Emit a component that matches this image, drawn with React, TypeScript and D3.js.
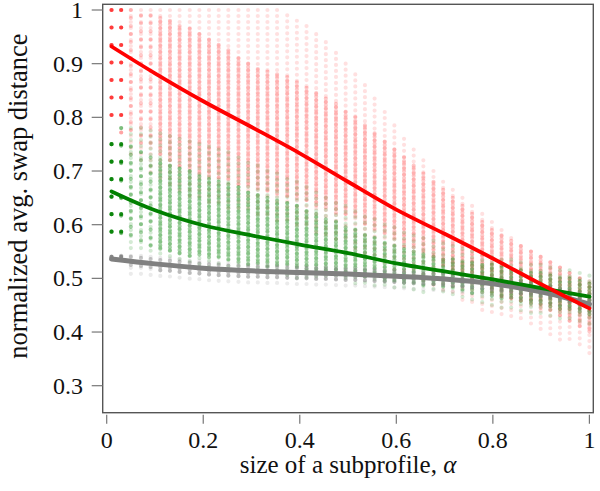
import React from 'react';
import * as d3 from 'd3';

// subprofile sizes (one column of dots per value)
const alphas = [
  0.010, 0.030, 0.050, 0.071, 0.091, 0.111, 0.131, 0.151, 0.172, 0.192,
  0.212, 0.232, 0.252, 0.273, 0.293, 0.313, 0.333, 0.353, 0.374, 0.394,
  0.414, 0.434, 0.454, 0.475, 0.495, 0.515, 0.535, 0.555, 0.576, 0.596,
  0.616, 0.636, 0.656, 0.677, 0.697, 0.717, 0.737, 0.757, 0.778, 0.798,
  0.818, 0.838, 0.858, 0.879, 0.899, 0.919, 0.939, 0.959, 0.980, 1.000,
];

// per column: outer min, dense low, dense high, outer max
const redMin = [0.78, 0.76, 0.73, 0.71, 0.69, 0.68, 0.67, 0.66, 0.65, 0.645, 0.64, 0.635, 0.63, 0.625, 0.62, 0.615, 0.61, 0.605, 0.6, 0.595, 0.59, 0.585, 0.58, 0.57, 0.565, 0.555, 0.545, 0.535, 0.525, 0.515, 0.505, 0.495, 0.49, 0.48, 0.47, 0.465, 0.455, 0.45, 0.44, 0.435, 0.43, 0.42, 0.415, 0.41, 0.4, 0.395, 0.385, 0.38, 0.37, 0.36];
const redLo = [0.8, 0.79, 0.77, 0.75, 0.74, 0.73, 0.72, 0.71, 0.7, 0.695, 0.69, 0.685, 0.68, 0.675, 0.67, 0.665, 0.66, 0.655, 0.65, 0.645, 0.64, 0.635, 0.63, 0.62, 0.615, 0.61, 0.6, 0.59, 0.58, 0.57, 0.56, 0.555, 0.545, 0.535, 0.525, 0.515, 0.505, 0.495, 0.485, 0.475, 0.465, 0.46, 0.455, 0.45, 0.44, 0.435, 0.43, 0.42, 0.41, 0.4];
const redHi = [1, 1, 1, 0.99, 0.99, 0.985, 0.98, 0.97, 0.965, 0.955, 0.945, 0.935, 0.925, 0.91, 0.9, 0.89, 0.885, 0.88, 0.875, 0.865, 0.855, 0.845, 0.835, 0.825, 0.81, 0.8, 0.785, 0.77, 0.755, 0.74, 0.725, 0.71, 0.695, 0.68, 0.665, 0.65, 0.635, 0.62, 0.605, 0.59, 0.58, 0.57, 0.56, 0.55, 0.54, 0.53, 0.52, 0.51, 0.5, 0.49];
const redMax = [1, 1, 1, 1, 1, 1, 1, 1, 1, 1, 1, 1, 1, 1, 1, 1, 1, 1, 0.99, 0.98, 0.97, 0.955, 0.94, 0.92, 0.9, 0.88, 0.86, 0.835, 0.81, 0.785, 0.76, 0.74, 0.72, 0.7, 0.68, 0.665, 0.65, 0.635, 0.62, 0.605, 0.59, 0.575, 0.56, 0.55, 0.54, 0.53, 0.52, 0.51, 0.5, 0.495];

const greenMin = [0.57, 0.565, 0.555, 0.55, 0.545, 0.54, 0.535, 0.53, 0.525, 0.525, 0.52, 0.52, 0.515, 0.515, 0.51, 0.51, 0.505, 0.505, 0.505, 0.5, 0.5, 0.495, 0.495, 0.495, 0.49, 0.49, 0.485, 0.485, 0.48, 0.48, 0.475, 0.475, 0.47, 0.47, 0.465, 0.465, 0.46, 0.455, 0.455, 0.45, 0.445, 0.445, 0.44, 0.435, 0.435, 0.43, 0.425, 0.425, 0.42, 0.415];
const greenLo = [0.58, 0.58, 0.57, 0.565, 0.56, 0.555, 0.55, 0.545, 0.54, 0.54, 0.535, 0.535, 0.53, 0.53, 0.525, 0.525, 0.52, 0.52, 0.52, 0.515, 0.515, 0.51, 0.51, 0.51, 0.505, 0.505, 0.5, 0.5, 0.495, 0.495, 0.49, 0.49, 0.485, 0.485, 0.48, 0.48, 0.475, 0.47, 0.47, 0.465, 0.46, 0.46, 0.455, 0.45, 0.45, 0.445, 0.44, 0.44, 0.435, 0.43];
const greenHi = [0.75, 0.75, 0.745, 0.735, 0.725, 0.72, 0.71, 0.705, 0.7, 0.69, 0.685, 0.68, 0.675, 0.67, 0.66, 0.655, 0.65, 0.645, 0.64, 0.635, 0.625, 0.62, 0.61, 0.605, 0.595, 0.59, 0.58, 0.575, 0.565, 0.56, 0.555, 0.55, 0.545, 0.54, 0.535, 0.535, 0.53, 0.53, 0.525, 0.525, 0.52, 0.515, 0.515, 0.51, 0.51, 0.505, 0.5, 0.5, 0.495, 0.49];
const greenMax = [0.75, 0.78, 0.78, 0.78, 0.775, 0.77, 0.765, 0.76, 0.755, 0.75, 0.745, 0.74, 0.735, 0.725, 0.715, 0.71, 0.7, 0.695, 0.685, 0.68, 0.67, 0.66, 0.65, 0.64, 0.635, 0.625, 0.615, 0.61, 0.6, 0.595, 0.585, 0.58, 0.575, 0.57, 0.565, 0.56, 0.555, 0.55, 0.545, 0.54, 0.535, 0.535, 0.53, 0.525, 0.525, 0.52, 0.515, 0.515, 0.51, 0.505];

const grayMin = [0.515, 0.51, 0.505, 0.5, 0.497, 0.495, 0.493, 0.491, 0.49, 0.489, 0.488, 0.487, 0.486, 0.485, 0.484, 0.484, 0.483, 0.483, 0.482, 0.481, 0.481, 0.48, 0.48, 0.479, 0.478, 0.478, 0.477, 0.476, 0.475, 0.474, 0.473, 0.472, 0.471, 0.47, 0.469, 0.467, 0.466, 0.464, 0.462, 0.46, 0.458, 0.456, 0.453, 0.451, 0.448, 0.445, 0.441, 0.437, 0.432, 0.428];
const grayLo = [0.53, 0.525, 0.52, 0.518, 0.516, 0.514, 0.513, 0.511, 0.509, 0.508, 0.506, 0.505, 0.504, 0.503, 0.502, 0.502, 0.501, 0.501, 0.5, 0.499, 0.499, 0.498, 0.498, 0.497, 0.496, 0.496, 0.495, 0.494, 0.493, 0.492, 0.491, 0.49, 0.489, 0.488, 0.487, 0.485, 0.484, 0.482, 0.48, 0.478, 0.476, 0.474, 0.471, 0.469, 0.466, 0.463, 0.459, 0.455, 0.45, 0.446];
const grayHi = [0.54, 0.54, 0.54, 0.538, 0.536, 0.534, 0.533, 0.531, 0.529, 0.528, 0.526, 0.525, 0.524, 0.523, 0.522, 0.522, 0.521, 0.521, 0.52, 0.519, 0.519, 0.518, 0.518, 0.517, 0.516, 0.516, 0.515, 0.514, 0.513, 0.512, 0.511, 0.51, 0.509, 0.508, 0.507, 0.505, 0.504, 0.502, 0.5, 0.498, 0.496, 0.494, 0.491, 0.489, 0.486, 0.483, 0.479, 0.475, 0.47, 0.466];
const grayMax = [0.54, 0.542, 0.542, 0.542, 0.54, 0.538, 0.537, 0.535, 0.533, 0.532, 0.53, 0.529, 0.528, 0.527, 0.526, 0.526, 0.525, 0.525, 0.524, 0.523, 0.523, 0.522, 0.522, 0.521, 0.52, 0.52, 0.519, 0.518, 0.517, 0.516, 0.515, 0.514, 0.513, 0.512, 0.511, 0.509, 0.508, 0.506, 0.504, 0.502, 0.5, 0.498, 0.495, 0.493, 0.49, 0.487, 0.483, 0.479, 0.474, 0.47];

// smoothed trend lines
const trendX = [0.01, 0.1, 0.2, 0.3, 0.4, 0.5, 0.6, 0.7, 0.8, 0.9, 1.0];
const redTrend = [0.932, 0.882, 0.83, 0.782, 0.733, 0.68, 0.628, 0.583, 0.537, 0.489, 0.444];
const greenTrend = [0.662, 0.627, 0.599, 0.58, 0.563, 0.547, 0.528, 0.513, 0.498, 0.482, 0.466];
const grayTrend = [0.536, 0.527, 0.519, 0.514, 0.511, 0.508, 0.504, 0.499, 0.49, 0.475, 0.452];

const xTicks = [0, 0.2, 0.4, 0.6, 0.8, 1];
const yTicks = [0.3, 0.4, 0.5, 0.6, 0.7, 0.8, 0.9, 1];

const W = 600;
const H = 491;
const frame = { left: 102.7, right: 593.3, top: 4.3, bottom: 412.7 };
const font = 'Liberation Serif';

const x = d3.scaleLinear().domain([0, 1]).range([106.7, 589.4]);
const y = d3.scaleLinear().domain([0.3, 1]).range([385.7, 10]);

const series = [
  { name: 'red', color: '#ff0000', min: redMin, lo: redLo, hi: redHi, max: redMax, trend: redTrend, width: 3.8, outer: 0.12, core: 0.21 },
  { name: 'green', color: '#008000', min: greenMin, lo: greenLo, hi: greenHi, max: greenMax, trend: greenTrend, width: 3.8, outer: 0.17, core: 0.36 },
  { name: 'gray', color: '#808080', min: grayMin, lo: grayLo, hi: grayHi, max: grayMax, trend: grayTrend, width: 5, outer: 0.16, core: 0.45 },
];

const line = d3.line<number>()
  .x((_, i) => x(trendX[i]))
  .y(d => y(d))
  .curve(d3.curveCatmullRom.alpha(0.5));

const tickStyle: React.CSSProperties = { fontFamily: font, fontSize: 24 };

const App: React.FC = () => {
  return (
    <svg width={W} height={H} style={{ position: 'absolute', left: 0, top: 0, background: '#fff' }}>
      <defs>
        <clipPath id="plot">
          <rect x={frame.left} y={frame.top} width={frame.right - frame.left} height={frame.bottom - frame.top} />
        </clipPath>
      </defs>

      {/* dot clouds: faint outer spread, then denser core; first columns hold few distinct dots */}
      <g clipPath="url(#plot)" strokeLinecap="round">
        {series.map(s => (
          <g key={s.name} stroke={s.color}>
            {alphas.map((a, i) => (
              <line key={'o' + i} x1={x(a)} x2={x(a)} y1={y(s.max[i])} y2={y(s.min[i])}
                strokeWidth={4.2} strokeDasharray={i < 2 ? '0 17.5' : '0 6'}
                strokeOpacity={i < 2 ? s.outer * 3 : s.outer} />
            ))}
            {alphas.map((a, i) => (
              <line key={'c' + i} x1={x(a)} x2={x(a)} y1={y(s.hi[i])} y2={y(s.lo[i])}
                strokeWidth={4.2} strokeDasharray={i < 2 ? '0 17.5' : i < 5 ? '0 8' : '0 3.4'}
                strokeOpacity={i < 2 ? Math.min(0.9, s.core * 3) : s.core} />
            ))}
          </g>
        ))}
      </g>

      {/* trend lines */}
      <g fill="none" strokeLinecap="round">
        {[series[2], series[1], series[0]].map(s => (
          <path key={s.name} d={line(s.trend) || ''} stroke={s.color} strokeWidth={s.width} />
        ))}
      </g>

      {/* frame */}
      <rect x={frame.left} y={frame.top} width={frame.right - frame.left} height={frame.bottom - frame.top}
        fill="none" stroke="#555" strokeWidth={1.4} />

      {/* y axis */}
      <g>
        {yTicks.map(t => (
          <g key={t}>
            <line x1={frame.left - 11} x2={frame.left} y1={y(t)} y2={y(t)} stroke="#777" strokeWidth={1.2} />
            <text x={83} y={y(t) + 8} textAnchor="end" style={tickStyle} fill="#111">{d3.format('')(t)}</text>
          </g>
        ))}
        <text transform="translate(27,196) rotate(-90)" textAnchor="middle"
          style={{ fontFamily: font, fontSize: 26.5 }} fill="#111">normalized avg. swap distance</text>
      </g>

      {/* x axis */}
      <g>
        {xTicks.map(t => (
          <g key={t}>
            <line x1={x(t)} x2={x(t)} y1={frame.bottom + 2} y2={frame.bottom + 11} stroke="#777" strokeWidth={1.2} />
            <text x={x(t)} y={448} textAnchor="middle" style={tickStyle} fill="#111">{d3.format('')(t)}</text>
          </g>
        ))}
        <text x={(frame.left + frame.right) / 2} y={473} textAnchor="middle" style={{ fontFamily: font, fontSize: 25 }} fill="#111">
          size of a subprofile, <tspan fontStyle="italic">α</tspan>
        </text>
      </g>
    </svg>
  );
};

export default App;
